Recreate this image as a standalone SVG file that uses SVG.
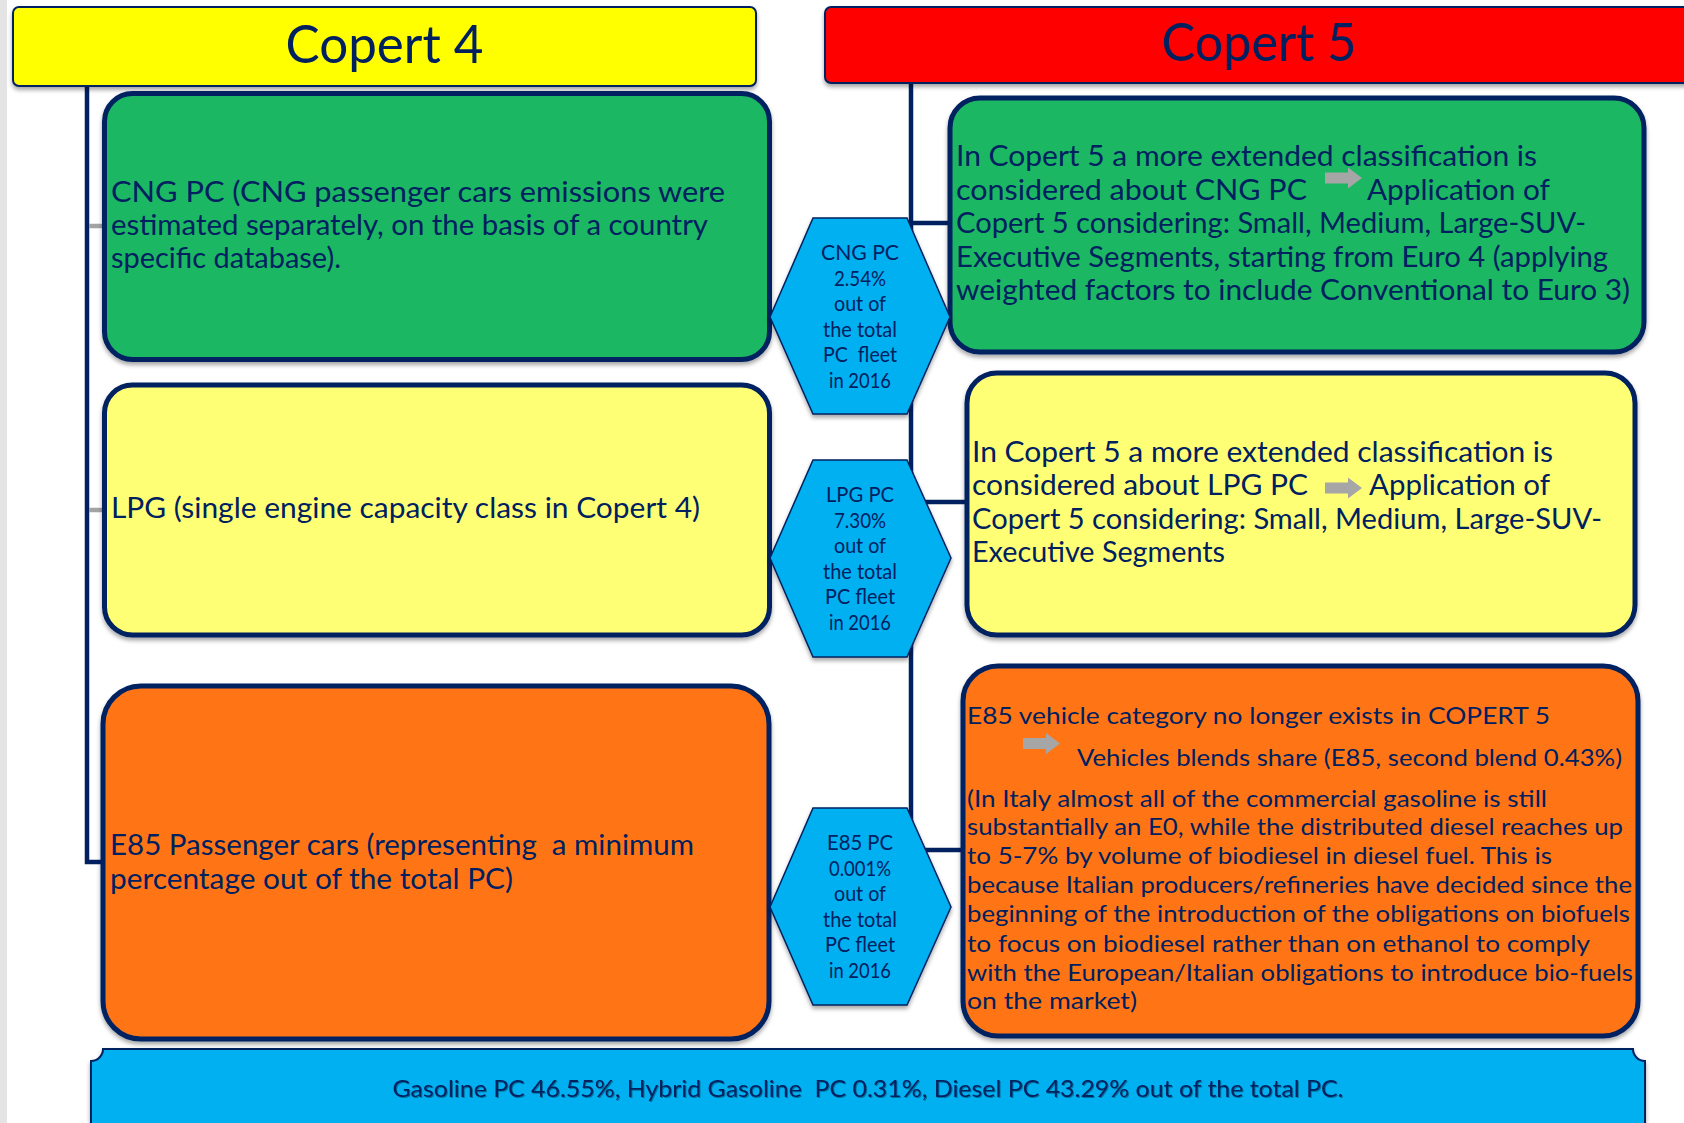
<svg xmlns="http://www.w3.org/2000/svg" xmlns:xlink="http://www.w3.org/1999/xlink" width="1684" height="1123" viewBox="0 0 1684 1123">
<style>
.t{font-family:Lato,"Liberation Sans",sans-serif;fill:#002060}
.hd{font-size:52px;text-anchor:middle}
.bx{stroke:#002060;stroke-width:5}
.hx{fill:#00B0F0;stroke:#002060;stroke-width:1.5}
.ht{font-size:21px;text-anchor:middle}
.big{font-size:28px}
.mid{font-size:24px}
.ln{stroke:#002060;stroke-width:4.5;fill:none}
.gr{stroke:#A3A3A3;stroke-width:4.5;fill:none}
</style>
<defs>
<filter id="sh" x="-10%" y="-10%" width="120%" height="130%">
<feDropShadow dx="0" dy="3" stdDeviation="2" flood-color="#000" flood-opacity="0.35"/>
</filter>
<filter id="tsh" x="-5%" y="-20%" width="110%" height="150%">
<feDropShadow dx="1" dy="1" stdDeviation="0.6" flood-color="#000" flood-opacity="0.35"/>
</filter>
<path id="garrow" d="M0,-5.5 H23 V-10.5 L37,0 L23,10.5 V5.5 H0 Z" fill="#A6A6A6"/>
</defs>
<rect x="0" y="0" width="1684" height="1123" fill="#ffffff"/>
<rect x="0" y="0" width="7" height="1123" fill="#e4e4e4"/>

<g id="connectors">
<polyline class="ln" points="87,87 87,862 104,862"/>
<line class="gr" x1="89" y1="226" x2="104" y2="226"/>
<line class="gr" x1="89" y1="510" x2="104" y2="510"/>
<line class="ln" x1="911" y1="83" x2="911" y2="850"/>
<line class="ln" x1="911" y1="223" x2="950" y2="223"/>
<line class="ln" x1="911" y1="502" x2="967" y2="502"/>
<line class="ln" x1="911" y1="850" x2="963" y2="850"/>
</g>

<g id="header-copert4">
<rect x="13" y="7" width="743" height="79" rx="6" fill="#FFFF00" stroke="#002060" stroke-width="2" filter="url(#sh)"/>
<text class="t hd" x="384.5" y="63" textLength="198" lengthAdjust="spacingAndGlyphs">Copert 4</text>
</g>

<g id="header-copert5">
<rect x="825" y="7" width="880" height="76" rx="6" fill="#FF0000" stroke="#002060" stroke-width="2" filter="url(#sh)"/>
<text class="t hd" x="1259" y="61" textLength="195" lengthAdjust="spacingAndGlyphs">Copert 5</text>
</g>

<g id="cng-copert4">
<rect class="bx" x="104.5" y="93.5" width="665" height="266" rx="28" fill="#1CB763" filter="url(#sh)"/>
<text class="t big" x="111" y="201.5" textLength="614" lengthAdjust="spacingAndGlyphs">CNG PC (CNG passenger cars emissions were</text>
<text class="t big" x="111" y="235" textLength="597" lengthAdjust="spacingAndGlyphs">estimated separately, on the basis of a country</text>
<text class="t big" x="111" y="268" textLength="230" lengthAdjust="spacingAndGlyphs">specific database).</text>
</g>

<g id="lpg-copert4">
<rect class="bx" x="104.5" y="385" width="665" height="250" rx="28" fill="#FFFF75" filter="url(#sh)"/>
<text class="t big" x="111" y="518" textLength="589" lengthAdjust="spacingAndGlyphs">LPG (single engine capacity class in Copert 4)</text>
</g>

<g id="e85-copert4">
<rect class="bx" x="103" y="686" width="666" height="353" rx="38" fill="#FF7519" filter="url(#sh)"/>
<text class="t big" x="110" y="855" textLength="584" lengthAdjust="spacingAndGlyphs" xml:space="preserve">E85 Passenger cars (representing  a minimum</text>
<text class="t big" x="110" y="889" textLength="403" lengthAdjust="spacingAndGlyphs">percentage out of the total PC)</text>
</g>

<g id="cng-copert5">
<rect class="bx" x="950" y="98" width="694" height="254" rx="30" fill="#1CB763" filter="url(#sh)"/>
<text class="t big" x="956" y="166" textLength="581" lengthAdjust="spacingAndGlyphs">In Copert 5 a more extended classification is</text>
<text class="t big" x="956" y="200" textLength="351" lengthAdjust="spacingAndGlyphs">considered about CNG PC</text>
<use xlink:href="#garrow" href="#garrow" transform="translate(1325,178)"/>
<text class="t big" x="1367" y="200" textLength="183" lengthAdjust="spacingAndGlyphs">Application of</text>
<text class="t big" x="956" y="233" textLength="630" lengthAdjust="spacingAndGlyphs">Copert 5 considering: Small, Medium, Large-SUV-</text>
<text class="t big" x="956" y="267" textLength="652" lengthAdjust="spacingAndGlyphs">Executive Segments, starting from Euro 4 (applying</text>
<text class="t big" x="956" y="300" textLength="674" lengthAdjust="spacingAndGlyphs">weighted factors to include Conventional to Euro 3)</text>
</g>

<g id="lpg-copert5">
<rect class="bx" x="967" y="373" width="668" height="262" rx="30" fill="#FFFF75" filter="url(#sh)"/>
<text class="t big" x="972" y="462" textLength="581" lengthAdjust="spacingAndGlyphs">In Copert 5 a more extended classification is</text>
<text class="t big" x="972" y="495" textLength="336" lengthAdjust="spacingAndGlyphs">considered about LPG PC</text>
<use xlink:href="#garrow" href="#garrow" transform="translate(1325,488)"/>
<text class="t big" x="1369" y="495" textLength="181" lengthAdjust="spacingAndGlyphs">Application of</text>
<text class="t big" x="972" y="529" textLength="630" lengthAdjust="spacingAndGlyphs">Copert 5 considering: Small, Medium, Large-SUV-</text>
<text class="t big" x="972" y="562" textLength="253" lengthAdjust="spacingAndGlyphs">Executive Segments</text>
</g>

<g id="e85-copert5">
<rect class="bx" x="963" y="666" width="675" height="370" rx="35" fill="#FF7519" filter="url(#sh)"/>
<text class="t mid" x="967" y="724" textLength="583" lengthAdjust="spacingAndGlyphs">E85 vehicle category no longer exists in COPERT 5</text>
<use xlink:href="#garrow" href="#garrow" transform="translate(1023,743.5)"/>
<text class="t mid" x="1077" y="766" textLength="545" lengthAdjust="spacingAndGlyphs">Vehicles blends share (E85, second blend 0.43%)</text>
<text class="t mid" x="967" y="807" textLength="580" lengthAdjust="spacingAndGlyphs">(In Italy almost all of the commercial gasoline is still</text>
<text class="t mid" x="967" y="835" textLength="656" lengthAdjust="spacingAndGlyphs">substantially an E0, while the distributed diesel reaches up</text>
<text class="t mid" x="967" y="864" textLength="585" lengthAdjust="spacingAndGlyphs">to 5-7% by volume of biodiesel in diesel fuel. This is</text>
<text class="t mid" x="967" y="893" textLength="665" lengthAdjust="spacingAndGlyphs">because Italian producers/refineries have decided since the</text>
<text class="t mid" x="967" y="922" textLength="663" lengthAdjust="spacingAndGlyphs">beginning of the introduction of the obligations on biofuels</text>
<text class="t mid" x="967" y="952" textLength="623" lengthAdjust="spacingAndGlyphs">to focus on biodiesel rather than on ethanol to comply</text>
<text class="t mid" x="967" y="981" textLength="666" lengthAdjust="spacingAndGlyphs">with the European/Italian obligations to introduce bio-fuels</text>
<text class="t mid" x="967" y="1009" textLength="170" lengthAdjust="spacingAndGlyphs">on the market)</text>
</g>

<g id="hex-cng">
<polygon class="hx" points="813,218 907,218 950,317 907,414 813,414 770,317" filter="url(#sh)"/>
<text class="t ht" x="860" y="260" textLength="78" lengthAdjust="spacingAndGlyphs">CNG PC</text>
<text class="t ht" x="860" y="285.5" textLength="52" lengthAdjust="spacingAndGlyphs">2.54%</text>
<text class="t ht" x="860" y="311" textLength="52" lengthAdjust="spacingAndGlyphs">out of</text>
<text class="t ht" x="860" y="336.5" textLength="74" lengthAdjust="spacingAndGlyphs">the total</text>
<text class="t ht" x="860" y="362" textLength="74" lengthAdjust="spacingAndGlyphs" xml:space="preserve">PC  fleet</text>
<text class="t ht" x="860" y="387.5" textLength="62" lengthAdjust="spacingAndGlyphs">in 2016</text>
</g>

<g id="hex-lpg">
<polygon class="hx" points="813,460 907,460 951,558 907,657 813,657 770,558" filter="url(#sh)"/>
<text class="t ht" x="860" y="502" textLength="68" lengthAdjust="spacingAndGlyphs">LPG PC</text>
<text class="t ht" x="860" y="527.5" textLength="52" lengthAdjust="spacingAndGlyphs">7.30%</text>
<text class="t ht" x="860" y="553" textLength="52" lengthAdjust="spacingAndGlyphs">out of</text>
<text class="t ht" x="860" y="578.5" textLength="74" lengthAdjust="spacingAndGlyphs">the total</text>
<text class="t ht" x="860" y="604" textLength="70" lengthAdjust="spacingAndGlyphs">PC fleet</text>
<text class="t ht" x="860" y="629.5" textLength="62" lengthAdjust="spacingAndGlyphs">in 2016</text>
</g>

<g id="hex-e85">
<polygon class="hx" points="813,808 907,808 951,907 907,1005 813,1005 770,907" filter="url(#sh)"/>
<text class="t ht" x="860" y="850" textLength="66" lengthAdjust="spacingAndGlyphs">E85 PC</text>
<text class="t ht" x="860" y="875.5" textLength="62" lengthAdjust="spacingAndGlyphs">0.001%</text>
<text class="t ht" x="860" y="901" textLength="52" lengthAdjust="spacingAndGlyphs">out of</text>
<text class="t ht" x="860" y="926.5" textLength="74" lengthAdjust="spacingAndGlyphs">the total</text>
<text class="t ht" x="860" y="952" textLength="70" lengthAdjust="spacingAndGlyphs">PC fleet</text>
<text class="t ht" x="860" y="977.5" textLength="62" lengthAdjust="spacingAndGlyphs">in 2016</text>
</g>

<g id="banner-other-fuels">
<path d="M103,1049 H1633 A12,12 0 0 0 1645,1061 V1140 H91 V1061 A12,12 0 0 0 103,1049 Z" fill="#00B0F0" stroke="#002060" stroke-width="2" filter="url(#sh)"/>
<text class="t" x="868" y="1097" font-size="23" text-anchor="middle" textLength="951" lengthAdjust="spacingAndGlyphs" xml:space="preserve" filter="url(#tsh)">Gasoline PC 46.55%, Hybrid Gasoline  PC 0.31%, Diesel PC 43.29% out of the total PC.</text>
</g>
</svg>
